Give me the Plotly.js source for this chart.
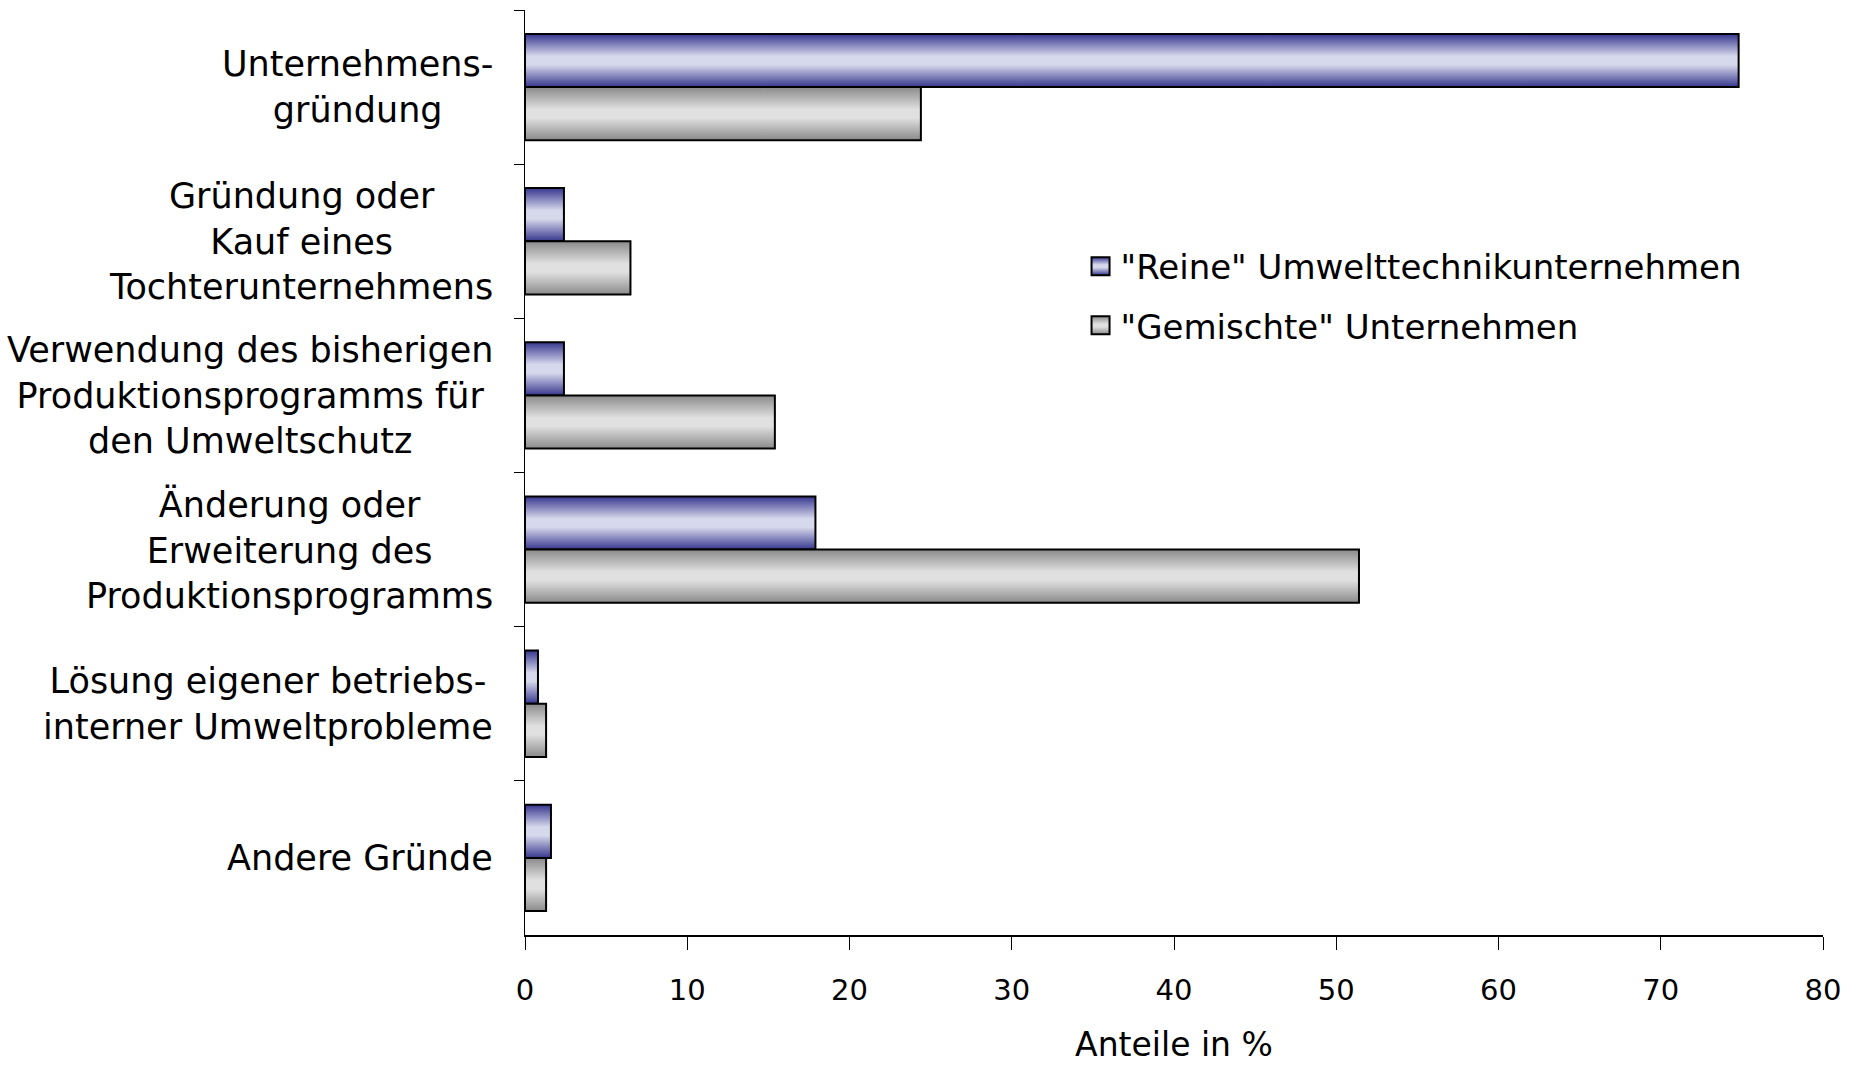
<!DOCTYPE html>
<html>
<head>
<meta charset="utf-8">
<script src="https://cdn.plot.ly/plotly-3.0.1.min.js"></script>
<style>
html,body{margin:0;padding:0;background:#fff;}
#chart{width:1865px;height:1066px;}
</style>
</head>
<body>
<div id="chart"></div>
<script>
// ---- data ----
const categories = [
  "Unternehmens-<br>gründung",
  "Gründung oder<br>Kauf eines<br>Tochterunternehmens",
  "Verwendung des bisherigen<br>Produktionsprogramms für<br>den Umweltschutz",
  "Änderung oder<br>Erweiterung des<br>Produktionsprogramms",
  "Lösung eigener betriebs-<br>interner Umweltprobleme",
  "Andere Gründe"
];
const seriesNames = ["\"Reine\" Umwelttechnikunternehmen", "\"Gemischte\" Unternehmen"];
const reineValues = [74.8, 2.4, 2.4, 17.9, 0.8, 1.6];
const gemischteValues = [24.4, 6.5, 15.4, 51.4, 1.3, 1.3];
const xTickValues = [0, 10, 20, 30, 40, 50, 60, 70, 80];
const xTitle = "Anteile in %";

const FONT = "DejaVu Sans, Liberation Sans, sans-serif";

const traces = [
  {
    type: "bar", orientation: "h", name: seriesNames[0],
    y: categories, x: reineValues, legendgroup: "a",
    marker: {color: "#8c8dc4", line: {color: "#000", width: 2}},
    hoverinfo: "x"
  },
  {
    type: "bar", orientation: "h", name: seriesNames[1],
    y: categories, x: gemischteValues, legendgroup: "b",
    marker: {color: "#c4c4c4", line: {color: "#000", width: 2}},
    hoverinfo: "x"
  }
];

const annotations = categories.map(c => ({
  xref: "paper", yref: "y", x: -0.023, y: c,
  xanchor: "right", yanchor: "middle", align: "center",
  text: c, showarrow: false,
  font: {family: FONT, size: 35, color: "#000"}
}));

const layout = {
  width: 1865, height: 1066,
  margin: {l: 525, r: 42, t: 10, b: 131},
  paper_bgcolor: "#fff", plot_bgcolor: "#fff",
  barmode: "group", bargap: 0.31, bargroupgap: 0,
  showlegend: true,
  legend: {
    x: 0.428, y: 0.754, xanchor: "left", yanchor: "top",
    traceorder: "grouped", tracegroupgap: 12,
    font: {family: FONT, size: 34, color: "#000"},
    bgcolor: "rgba(0,0,0,0)"
  },
  font: {family: FONT, color: "#000"},
  xaxis: {
    range: [0, 80], tickvals: xTickValues, ticktext: xTickValues.map(String),
    showgrid: false, zeroline: false, showline: true, linecolor: "#000", linewidth: 1.5,
    ticks: "outside", ticklen: 13, tickcolor: "#000", tickwidth: 1,
    ticklabelstandoff: 16,
    tickfont: {family: FONT, size: 29, color: "#000"},
    title: {text: xTitle, font: {family: FONT, size: 33, color: "#000"}, standoff: 26},
    automargin: false
  },
  yaxis: {
    type: "category", autorange: "reversed",
    showgrid: false, zeroline: false, showline: true, linecolor: "#000", linewidth: 1.5,
    ticks: "outside", tickson: "boundaries", ticklen: 10, tickcolor: "#000",
    showticklabels: false, automargin: false
  },
  annotations: annotations
};

Plotly.newPlot("chart", traces, layout, {displayModeBar: false, staticPlot: true}).then(gd => {
  const svg = gd.querySelector("svg.main-svg");
  const ns = "http://www.w3.org/2000/svg";
  let defs = svg.querySelector("defs");
  if (!defs) { defs = document.createElementNS(ns, "defs"); svg.insertBefore(defs, svg.firstChild); }
  function addGrad(id, edge, mid) {
    const g = document.createElementNS(ns, "linearGradient");
    g.setAttribute("id", id);
    g.setAttribute("x1", "0"); g.setAttribute("y1", "0");
    g.setAttribute("x2", "0"); g.setAttribute("y2", "1");
    [[0, edge], [0.42, mid], [0.58, mid], [1, edge]].forEach(([o, c]) => {
      const s = document.createElementNS(ns, "stop");
      s.setAttribute("offset", o); s.setAttribute("stop-color", c);
      g.appendChild(s);
    });
    defs.appendChild(g);
  }
  addGrad("gradBlue", "#36368e", "#d6d8ec");
  addGrad("gradGray", "#8a8a8a", "#e0e0e0");
  const grads = ["url(#gradBlue)", "url(#gradGray)"];
  gd.querySelectorAll(".barlayer .trace").forEach((t, i) => {
    t.querySelectorAll("path").forEach(p => { p.style.fill = grads[i]; });
  });
  gd.querySelectorAll(".legend .traces").forEach((t, i) => {
    t.querySelectorAll(".legendpoints path").forEach(p => {
      p.style.fill = grads[i];
      p.setAttribute("d", "M9,9H-9V-9H9Z");
    });
  });
});
</script>
</body>
</html>
